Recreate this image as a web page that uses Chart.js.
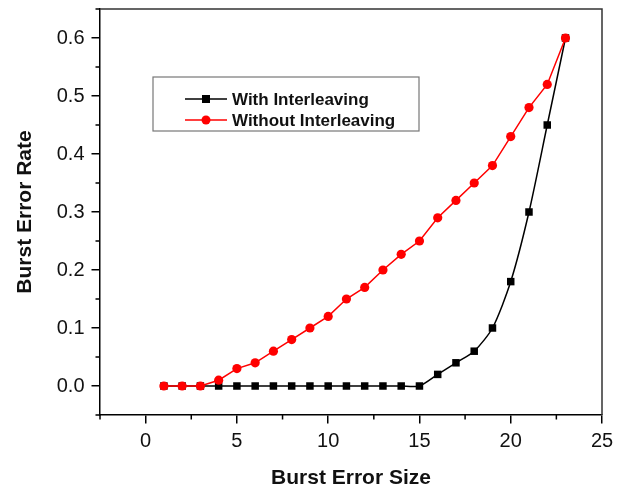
<!DOCTYPE html>
<html>
<head>
<meta charset="utf-8">
<script src="https://cdn.jsdelivr.net/npm/chart.js@4/dist/chart.umd.min.js"></script>
<style>
html,body{margin:0;padding:0;background:#fff;}
#wrap{width:627px;height:491px;position:relative;}
</style>
</head>
<body>
<div id="wrap"><canvas id="c" width="627" height="491"></canvas></div>
<script>
const burstSizes = [1,2,3,4,5,6,7,8,9,10,11,12,13,14,15,16,17,18,19,20,21,22,23];
const withInterleaving = [0,0,0,0,0,0,0,0,0,0,0,0,0,0,0,0.02,0.04,0.06,0.1,0.18,0.3,0.45,0.6];
const withoutInterleaving = [0,0,0,0.01,0.03,0.04,0.06,0.08,0.1,0.12,0.15,0.17,0.2,0.227,0.25,0.29,0.32,0.35,0.38,0.43,0.48,0.52,0.6];
const xMajorTicks = [0,5,10,15,20,25];
const xMinorTicks = [-2.5,2.5,7.5,12.5,17.5,22.5];
const yMajorTicks = [0,0.1,0.2,0.3,0.4,0.5,0.6];
const yMinorTicks = [-0.05,0.05,0.15,0.25,0.35,0.45,0.55,0.65];
const seriesNames = ['With Interleaving','Without Interleaving'];

const FONT = "'Liberation Sans', Arial, sans-serif";

const framePlugin = {
  id: 'frame',
  afterDatasetsDraw(chart) {
    const {ctx, chartArea: a, scales: {x, y}} = chart;
    ctx.save();
    ctx.strokeStyle = '#333';
    ctx.lineWidth = 1.5;
    ctx.beginPath();
    ctx.moveTo(a.left, a.top);
    ctx.lineTo(a.right, a.top);
    ctx.lineTo(a.right, a.bottom);
    ctx.stroke();
    ctx.strokeStyle = '#000';
    ctx.lineWidth = 1.5;
    ctx.beginPath();
    xMinorTicks.forEach(v => {
      const px = x.getPixelForValue(v);
      ctx.moveTo(px, a.bottom);
      ctx.lineTo(px, a.bottom + 4.5);
    });
    yMinorTicks.forEach(v => {
      const py = y.getPixelForValue(v);
      ctx.moveTo(a.left, py);
      ctx.lineTo(a.left - 4.5, py);
    });
    ctx.stroke();
    ctx.restore();
  },
  afterDraw(chart) {
    const {ctx} = chart;
    ctx.save();
    const bx = 153, by = 77, bw = 266, bh = 54;
    ctx.fillStyle = '#fff';
    ctx.fillRect(bx, by, bw, bh);
    ctx.strokeStyle = '#777';
    ctx.lineWidth = 1.2;
    ctx.strokeRect(bx, by, bw, bh);
    const rows = [99, 120];
    chart.data.datasets.forEach((ds, i) => {
      const ry = rows[i];
      ctx.strokeStyle = ds.borderColor;
      ctx.lineWidth = 1.5;
      ctx.beginPath();
      ctx.moveTo(185, ry);
      ctx.lineTo(227, ry);
      ctx.stroke();
      ctx.fillStyle = ds.pointBackgroundColor;
      ctx.beginPath();
      if (ds.pointStyle === 'rect') {
        ctx.rect(206 - 4, ry - 4, 8, 8);
      } else {
        ctx.arc(206, ry, 4.5, 0, Math.PI * 2);
      }
      ctx.fill();
      ctx.fillStyle = '#111';
      ctx.font = "bold 17px " + FONT;
      ctx.textBaseline = 'middle';
      ctx.textAlign = 'left';
      ctx.fillText(ds.label, 232, ry + 1);
    });
    ctx.restore();
  }
};

new Chart(document.getElementById('c'), {
  type: 'line',
  data: {
    datasets: [
      {
        label: seriesNames[0],
        data: burstSizes.map((s, i) => ({x: s, y: withInterleaving[i]})),
        borderColor: '#000',
        backgroundColor: '#000',
        pointBackgroundColor: '#000',
        pointBorderColor: '#000',
        pointStyle: 'rect',
        pointRadius: 5.3,
        pointBorderWidth: 0,
        borderWidth: 1.5,
        tension: 0.25,
        order: 2
      },
      {
        label: seriesNames[1],
        data: burstSizes.map((s, i) => ({x: s, y: withoutInterleaving[i]})),
        borderColor: '#ff0000',
        backgroundColor: '#ff0000',
        pointBackgroundColor: '#ff0000',
        pointBorderColor: '#ff0000',
        pointStyle: 'circle',
        pointRadius: 4.6,
        pointBorderWidth: 0,
        borderWidth: 1.5,
        tension: 0,
        order: 1
      }
    ]
  },
  options: {
    responsive: false,
    animation: false,
    devicePixelRatio: 1,
    layout: {padding: {top: 9, right: 25, left: 0, bottom: 0}},
    plugins: {legend: {display: false}, tooltip: {enabled: false}},
    scales: {
      x: {
        type: 'linear',
        min: -2.5,
        max: 25,
        afterBuildTicks(scale) { scale.ticks = xMajorTicks.map(v => ({value: v})); },
        afterFit(scale) { scale.height = 76; scale.paddingLeft = 0; scale.paddingRight = 0; },
        ticks: {
          font: {family: FONT, size: 20},
          color: '#111',
          padding: 6,
          maxRotation: 0,
          autoSkip: false,
          callback: v => String(v)
        },
        grid: {display: true, drawOnChartArea: false, drawTicks: true, tickLength: 8.5, color: '#000', lineWidth: 1.5},
        border: {display: true, color: '#000', width: 1.5},
        title: {
          display: true,
          text: 'Burst Error Size',
          font: {family: FONT, size: 21, weight: 'bold', lineHeight: 1},
          color: '#111',
          padding: {top: 0, bottom: 2.5}
        }
      },
      y: {
        type: 'linear',
        min: -0.05,
        max: 0.65,
        afterBuildTicks(scale) { scale.ticks = yMajorTicks.map(v => ({value: v})); },
        afterFit(scale) { scale.width = 100; scale.paddingTop = 0; scale.paddingBottom = 0; },
        ticks: {
          font: {family: FONT, size: 20},
          color: '#111',
          padding: 7,
          autoSkip: false,
          callback: v => Number(v).toFixed(1)
        },
        grid: {display: true, drawOnChartArea: false, drawTicks: true, tickLength: 8.5, color: '#000', lineWidth: 1.5},
        border: {display: true, color: '#000', width: 1.5},
        title: {
          display: true,
          text: 'Burst Error Rate',
          font: {family: FONT, size: 21, weight: 'bold', lineHeight: 1},
          color: '#111',
          padding: {top: 14.5, bottom: 0}
        }
      }
    }
  },
  plugins: [framePlugin]
});
</script>
</body>
</html>
